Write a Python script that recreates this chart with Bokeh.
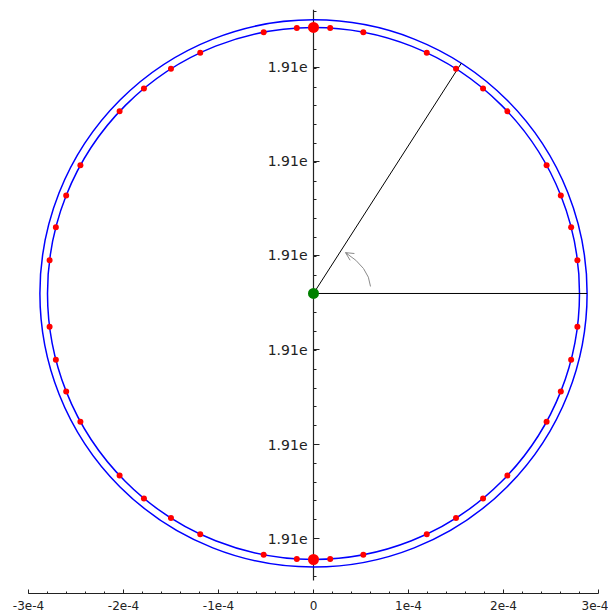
import numpy as np
from bokeh.plotting import figure
from bokeh.models import (LinearAxis, FixedTicker, CustomJSTickFormatter, Range1d,
                          Arrow, OpenHead)
from bokeh.embed import file_html
from bokeh.resources import INLINE

# ---------------- data ----------------
x_ticks = [-3e-4, -2e-4, -1e-4, 0.0, 1e-4, 2e-4, 3e-4]
x_tick_labels = ["-3e-4", "-2e-4", "-1e-4", "0", "1e-4", "2e-4", "3e-4"]
y_ticks = [-2.58e-4, -1.59e-4, -0.59e-4, 0.40e-4, 1.39e-4, 2.38e-4]
y_tick_labels = ["1.91e", "1.91e", "1.91e", "1.91e", "1.91e", "1.91e"]

center_x = [0.0]
center_y = [0.0]
inner_radius = 2.80e-4
outer_radius = 2.88e-4

# small red points on the inner circle (angles in degrees)
dot_angles = [7.2, 14.4, 21.6, 28.8, 43.2, 50.4, 57.6, 64.8, 79.2, 86.4,
              93.6, 100.8, 115.2, 122.4, 129.6, 136.8, 151.2, 158.4, 165.6, 172.8,
              187.2, 194.4, 201.6, 208.8, 223.2, 230.4, 237.6, 244.8, 259.2, 266.4,
              273.6, 280.8, 295.2, 302.4, 309.6, 316.8, 331.2, 338.4, 345.6, 352.8]
# large red points on the inner circle
big_dot_angles = [90.0, 270.0]
# rays from the centre (radians)
ray_angles = [0.0, 1.0]

# ---------------- figure ----------------
W, H = 608, 615
p = figure(width=W, height=H, output_backend="svg", toolbar_location=None,
           x_axis_type=None, y_axis_type=None,
           x_range=Range1d(-3e-4, 3e-4), y_range=Range1d(-3.158e-4, 2.989e-4),
           min_border_left=28, min_border_right=10, min_border_top=9,
           min_border_bottom=22)
p.outline_line_color = None
p.xgrid.visible = False
p.ygrid.visible = False
p.background_fill_color = "white"
p.border_fill_color = "white"

LABEL_JS = ("for (let i = 0; i < tks.length; i++) { if (Math.abs(tks[i] - tick) < 1e-12) "
            "return lbls[i]; } return '';")

# x axis (bottom)
x_minor = [x_ticks[0] + i * 0.2e-4 for i in range(31)]
xax = LinearAxis(ticker=FixedTicker(ticks=x_ticks, minor_ticks=x_minor),
                 bounds=(x_ticks[0], x_ticks[-1]))
xax.formatter = CustomJSTickFormatter(args=dict(tks=x_ticks, lbls=x_tick_labels), code=LABEL_JS)
xax.major_tick_in = 4
xax.major_tick_out = 0
xax.minor_tick_in = 2
xax.minor_tick_out = 0
xax.major_label_standoff = 7
xax.major_label_text_font = "DejaVu Sans"
xax.major_label_text_font_size = "12px"
xax.major_label_text_color = "#222222"
xax.axis_line_color = "#222222"
xax.major_tick_line_color = "#222222"
xax.minor_tick_line_color = "#222222"
p.add_layout(xax, "below")

# y axis through x = 0
ybounds = (-3.02e-4, 2.99e-4)
step = (y_ticks[1] - y_ticks[0]) / 5
y_minor = [y_ticks[0] + i * step for i in range(-3, 30)]
y_minor = [v for v in y_minor if ybounds[0] - 1e-9 <= v <= ybounds[1] + 1e-9]
yax = LinearAxis(ticker=FixedTicker(ticks=y_ticks, minor_ticks=y_minor),
                 fixed_location=0, bounds=ybounds)
yax.formatter = CustomJSTickFormatter(args=dict(tks=y_ticks, lbls=y_tick_labels), code=LABEL_JS)
yax.major_tick_in = 6
yax.major_tick_out = 0
yax.minor_tick_in = 3
yax.minor_tick_out = 0
yax.major_label_standoff = 6
yax.major_label_text_font = "DejaVu Sans"
yax.major_label_text_font_size = "14px"
yax.major_label_text_color = "#222222"
yax.axis_line_color = "#222222"
yax.axis_line_width = 1.2
yax.major_tick_line_color = "#222222"
yax.minor_tick_line_color = "#222222"
yax.level = "underlay"
p.add_layout(yax, "left")

# circles
p.circle(x=center_x * 2, y=center_y * 2, radius=[inner_radius, outer_radius],
         fill_color=None, line_color="#0000ff", line_width=1.5)

# rays
ra = np.array(ray_angles)
p.segment(x0=[center_x[0]] * len(ra), y0=[center_y[0]] * len(ra),
          x1=center_x[0] + outer_radius * np.cos(ra),
          y1=center_y[0] + outer_radius * np.sin(ra),
          line_color="black", line_width=1)

# curved arrow (grey)
S = np.array([0.60e-4, 0.074e-4])
E = np.array([0.337e-4, 0.43e-4])
C = np.array([0.5835e-4, 0.274e-4])
p.quadratic(x0=[S[0]], y0=[S[1]], x1=[E[0]], y1=[E[1]], cx=[C[0]], cy=[C[1]],
            line_color="#8a8a8a", line_width=1)
d = (E - C) / np.linalg.norm(E - C)
st = E - 0.03e-4 * d
p.add_layout(Arrow(x_start=st[0], y_start=st[1], x_end=E[0], y_end=E[1],
                   line_color="#8a8a8a", line_width=1,
                   end=OpenHead(size=8, line_color="#8a8a8a", line_width=1)))

# small red dots
da = np.deg2rad(dot_angles)
p.scatter(x=center_x[0] + inner_radius * np.cos(da),
          y=center_y[0] + inner_radius * np.sin(da),
          size=6, fill_color="#ff0000", line_color="#ff0000", line_width=0)

# big red dots
ba = np.deg2rad(big_dot_angles)
p.scatter(x=center_x[0] + inner_radius * np.cos(ba),
          y=center_y[0] + inner_radius * np.sin(ba),
          size=11, fill_color="#ff0000", line_color="#ff0000", line_width=0)

# green centre
p.scatter(x=center_x, y=center_y, size=11, fill_color="#008000",
          line_color="#008000", line_width=0)

open("out.html", "w").write(file_html(p, INLINE))
